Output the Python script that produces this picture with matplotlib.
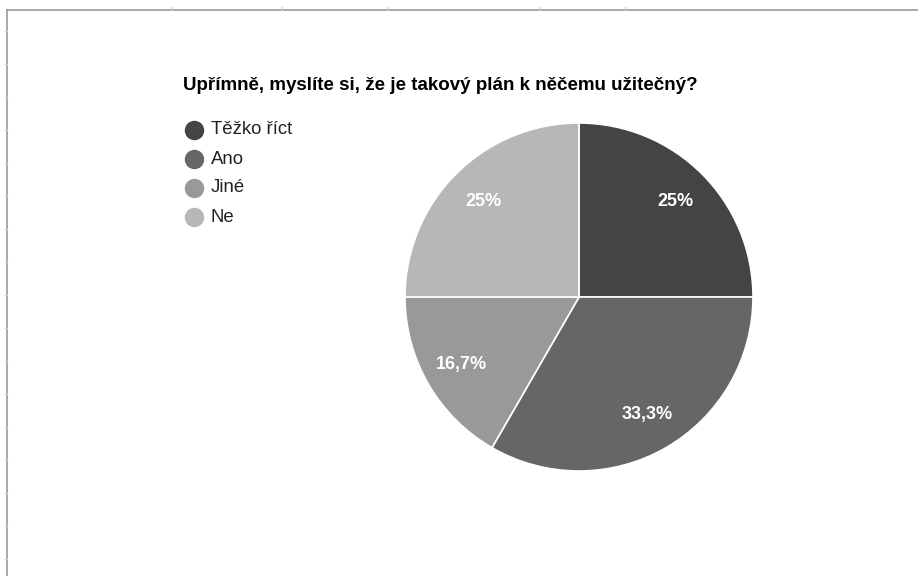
import matplotlib.pyplot as plt
from matplotlib.lines import Line2D

plt.rcParams['font.family'] = ['Liberation Sans', 'DejaVu Sans']

# data
labels = ['Těžko říct', 'Ano', 'Jiné', 'Ne']
counts = [3, 4, 2, 3]
colors = ['#444444', '#666666', '#999999', '#b7b7b7']
title = 'Upřímně, myslíte si, že je takový plán k něčemu užitečný?'

W, H = 918, 576
fig = plt.figure(figsize=(W / 100, H / 100), dpi=100)


def fx(px):
    return px / W


def fy(py):
    return 1 - py / H


# frame lines of the sheet behind the chart
fig.add_artist(Line2D([fx(7), 1], [fy(10), fy(10)], color='#9a9a9a', lw=1.2))
fig.add_artist(Line2D([fx(7), fx(7)], [fy(10), 0], color='#9a9a9a', lw=1.2))
for x in [171, 282, 388, 540, 625]:
    fig.add_artist(Line2D([fx(x), fx(x)], [fy(7), fy(10)], color='#d0d0d0', lw=1))
for y in range(31, 576, 33):
    fig.add_artist(Line2D([fx(5), fx(7)], [fy(y), fy(y)], color='#d0d0d0', lw=1))

fig.text(fx(183), fy(86), title, fontsize=13.5, fontweight='bold',
         ha='left', va='center', color='#000000')

# pie
cx, cy, r = 579, 297, 174
ax = fig.add_axes([fx(cx - r), fy(cy + r), 2 * r / W, 2 * r / H])


def fmt(p):
    s = ('%.1f' % p).rstrip('0').rstrip('.')
    return s.replace('.', ',') + '%'


wedges, texts, autotexts = ax.pie(
    counts, colors=colors, startangle=90, counterclock=False,
    autopct=fmt, pctdistance=0.78,
    wedgeprops=dict(edgecolor='white', linewidth=1.2),
    textprops=dict(color='white', fontsize=13, fontweight='semibold'))
ax.set_xlim(-1, 1)
ax.set_ylim(-1, 1)
ax.set_aspect('equal')
ax.axis('off')

# legend
for i, (lab, col) in enumerate(zip(labels, colors)):
    y = 130 + i * 29
    fig.add_artist(Line2D([fx(194)], [fy(y)], marker='o', markersize=13,
                          color=col, linestyle='none'))
    fig.text(fx(211), fy(y), lab, fontsize=13.4, ha='left', va='center',
             color='#222222')

fig.savefig('out.png', dpi=100)
